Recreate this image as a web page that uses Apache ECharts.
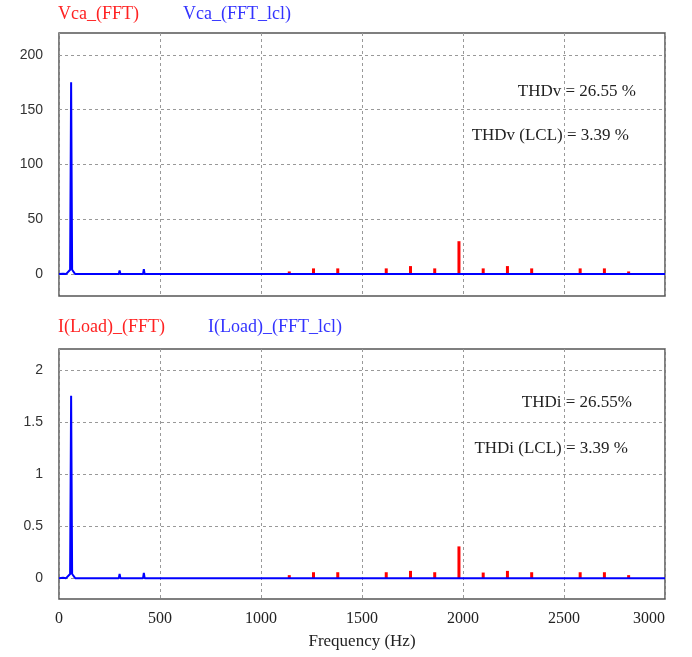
<!DOCTYPE html>
<html>
<head>
<meta charset="utf-8">
<script src="https://cdn.jsdelivr.net/npm/echarts@6/dist/echarts.min.js"></script>
<style>
  html, body { margin: 0; padding: 0; background: #fff; }
  #chart { width: 692px; height: 657px; }
</style>
</head>
<body>
<div id="chart"></div>
<script>
// harmonics of the un-filtered FFT (red)
var harmFreq = [1140, 1260, 1380, 1620, 1740, 1860, 1980, 2100, 2220, 2340, 2580, 2700, 2820];
var vcaFft   = [2.4, 5.2, 5.2, 5.2, 7.3, 5.2, 30, 5.2, 7.3, 5.2, 5.2, 5.2, 2.4];
var iLoadFft = [0.029, 0.057, 0.057, 0.057, 0.07, 0.057, 0.305, 0.054, 0.07, 0.057, 0.057, 0.057, 0.029];

// spectrum with LCL filter (blue)
var vcaLclFreq = [0, 20, 35, 55, 60, 65, 80, 176, 180, 184, 296, 300, 304, 416, 420, 424, 3000];
var vcaLcl     = [0, 0.4, 0, 4, 175, 4, 0, 0, 1.5, 0, 0, 3.3, 0, 0, 4.5, 0, 0];
var iLclFreq   = [0, 20, 35, 55, 60, 65, 80, 176, 180, 184, 296, 300, 304, 376, 380, 384, 416, 420, 424, 3000];
var iLoadLcl   = [0, 0.004, 0, 0.04, 1.75, 0.04, 0, 0, 0.015, 0, 0, 0.04, 0, 0, 0.015, 0, 0, 0.05, 0, 0];

// axis ticks
var freqTicks = [0, 500, 1000, 1500, 2000, 2500, 3000];
var vTicks = [0, 50, 100, 150, 200];
var iTicks = [0, 0.5, 1, 1.5, 2];

function pairs(xs, ys) {
  return xs.map(function (x, i) { return [x, ys[i]]; });
}

var serif = 'Liberation Serif';
var gridLine = { lineStyle: { type: [3, 3], color: '#999', width: 1 } };

function xAx(idx, showLabels) {
  var ax = {
    gridIndex: idx, type: 'value',
    min: freqTicks[0], max: freqTicks[freqTicks.length - 1], interval: 500,
    axisLine: { show: false }, axisTick: { show: false },
    splitLine: gridLine,
    axisLabel: {
      show: showLabels, fontFamily: serif, fontSize: 16, color: '#222', margin: 12,
      alignMaxLabel: 'right',
      formatter: function (v) { return String(v); }
    }
  };
  if (showLabels) {
    ax.name = 'Frequency (Hz)';
    ax.nameLocation = 'middle';
    ax.nameGap = 34;
    ax.nameTextStyle = { fontFamily: serif, fontSize: 17, color: '#222' };
  }
  return ax;
}

function yAx(idx, ticks, min, max) {
  return {
    gridIndex: idx, type: 'value', min: min, max: max,
    axisLine: { show: false },
    axisTick: { show: false, customValues: ticks },
    axisLabel: { customValues: ticks, fontFamily: 'Liberation Sans', fontSize: 14, color: '#333', margin: 16 },
    splitLine: gridLine
  };
}

function legendFor(top, names, gap) {
  return {
    top: top, left: 48, icon: 'none', itemWidth: 0, itemHeight: 18, itemGap: gap,
    textStyle: { fontFamily: serif, fontSize: 18 },
    data: [
      { name: names[0], textStyle: { color: '#ff2222' } },
      { name: names[1], textStyle: { color: '#3333ff' } }
    ]
  };
}

function note(x, y, txt) {
  return {
    type: 'text', x: x, y: y,
    style: { text: txt, fontFamily: serif, fontSize: 17, fill: '#222', align: 'right', verticalAlign: 'middle' }
  };
}

var chart = echarts.init(document.getElementById('chart'));

var option = {
  animation: false,
  backgroundColor: '#fff',
  grid: [
    { left: 59, right: 27, top: 33, height: 263, show: true, borderColor: '#555', borderWidth: 1.5 },
    { left: 59, right: 27, top: 349, height: 250, show: true, borderColor: '#555', borderWidth: 1.5 }
  ],
  legend: [
    legendFor(0, ['Vca_(FFT)', 'Vca_(FFT_lcl)'], 39),
    legendFor(313, ['I(Load)_(FFT)', 'I(Load)_(FFT_lcl)'], 38)
  ],
  xAxis: [xAx(0, false), xAx(1, true)],
  yAxis: [yAx(0, vTicks, -20, 220), yAx(1, iTicks, -0.2, 2.2)],
  series: [
    {
      name: 'Vca_(FFT)', type: 'bar', xAxisIndex: 0, yAxisIndex: 0,
      barWidth: 3, itemStyle: { color: '#ff0000' },
      data: pairs(harmFreq, vcaFft)
    },
    {
      name: 'Vca_(FFT_lcl)', type: 'line', xAxisIndex: 0, yAxisIndex: 0,
      showSymbol: false, lineStyle: { color: '#0000ff', width: 2 }, itemStyle: { color: '#0000ff' },
      data: pairs(vcaLclFreq, vcaLcl)
    },
    {
      name: 'I(Load)_(FFT)', type: 'bar', xAxisIndex: 1, yAxisIndex: 1,
      barWidth: 3, itemStyle: { color: '#ff0000' },
      data: pairs(harmFreq, iLoadFft)
    },
    {
      name: 'I(Load)_(FFT_lcl)', type: 'line', xAxisIndex: 1, yAxisIndex: 1,
      showSymbol: false, lineStyle: { color: '#0000ff', width: 2 }, itemStyle: { color: '#0000ff' },
      data: pairs(iLclFreq, iLoadLcl)
    }
  ],
  graphic: [
    note(636, 92, 'THDv = 26.55 %'),
    note(629, 136, 'THDv (LCL) = 3.39 %'),
    note(632, 403, 'THDi = 26.55%'),
    note(628, 449, 'THDi (LCL) = 3.39 %')
  ]
};

chart.setOption(option);
</script>
</body>
</html>
